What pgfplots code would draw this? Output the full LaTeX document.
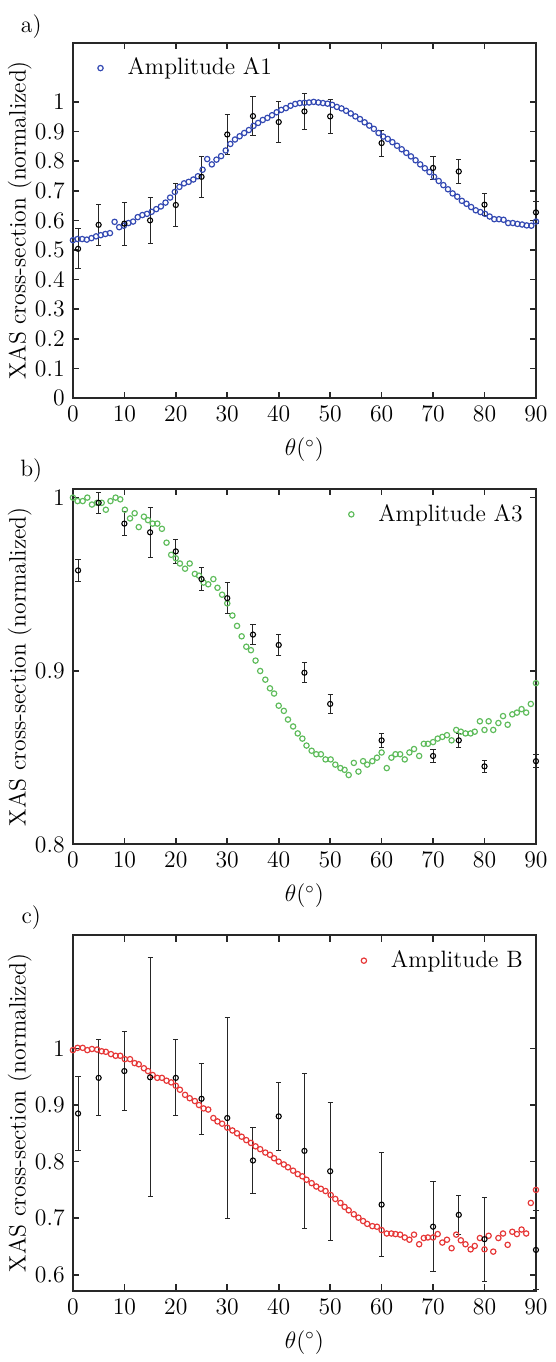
\documentclass[border=0pt]{standalone}
\usepackage{pgfplots}
\pgfplotsset{compat=1.18}

\definecolor{simblue}{RGB}{50,72,178}
\definecolor{simgreen}{RGB}{95,188,92}
\definecolor{simred}{RGB}{230,55,55}
\definecolor{axgray}{RGB}{40,40,40}

\pgfplotsset{
  xaspanel/.style={
    scale only axis,
    width=234.5pt, height=180pt,
    xmin=0, xmax=90,
    xtick={0,10,...,90},
    axis line style={axgray, line width=1pt},
    tick style={axgray, line width=0.8pt},
    tick align=inside,
    major tick length=3.2pt,
    xlabel={$\theta(^\circ)$},
    ylabel={XAS cross-section (normalized)},
    ylabel style={yshift=-6.5pt},
    /pgf/number format/fixed,
    clip=false,
    legend style={draw=none, fill=none, inner sep=1pt,
      font=\fontsize{12}{14}\selectfont},
    legend cell align=left,
  },
  simpts/.style={only marks, mark=o, mark size=1.35pt, line width=0.6pt, mark options={draw=#1},
    legend image code/.code={
      \path (0cm,0cm) (0.55cm,0cm);
      \draw[##1] plot[only marks] coordinates {(0.15cm,0cm)};}},
  datapts/.style={only marks, mark=o, mark size=1.3pt, line width=0.55pt, black,
    error bars/y dir=both, error bars/y explicit,
    error bars/error bar style={line width=0.5pt, black!85},
    error bars/error mark options={rotate=90, mark size=1.3pt, line width=0.5pt, black!85}},
}

\begin{document}
{\fontsize{12}{14}\selectfont
\begin{tikzpicture}

% ---------------- a) amplitude A1 ----------------
\begin{axis}[xaspanel, name=pa, at={(0,0)}, anchor=north west,
  ymin=0, ymax=1.2,
  ytick={0,0.1,0.2,0.3,0.4,0.5,0.6,0.7,0.8,0.9,1},
  legend style={at={(rel axis cs:0.035,0.975)}, anchor=north west},
]
\addplot[simpts=simblue] coordinates {
(0.0,0.533)(0.9,0.537)(1.8,0.537)(2.7,0.535)(3.6,0.540)(4.5,0.546)(5.4,0.550)(6.3,0.554)(7.2,0.557)(8.1,0.595)
(9.0,0.577)(9.9,0.582)(10.8,0.591)(11.7,0.596)(12.6,0.611)(13.5,0.618)(14.4,0.622)(15.3,0.629)(16.2,0.638)(17.1,0.647)
(18.0,0.660)(18.9,0.677)(19.8,0.696)(20.7,0.713)(21.6,0.725)(22.5,0.730)(23.4,0.738)(24.3,0.749)(25.2,0.771)(26.1,0.807)
(27.0,0.789)(27.9,0.805)(28.8,0.817)(29.7,0.836)(30.6,0.858)(31.5,0.873)(32.4,0.884)(33.3,0.895)(34.2,0.905)(35.1,0.919)
(36.0,0.929)(36.9,0.939)(37.8,0.946)(38.7,0.955)(39.6,0.965)(40.5,0.973)(41.4,0.979)(42.3,0.987)(43.2,0.993)(44.1,0.996)
(45.0,0.997)(45.9,0.998)(46.8,1.000)(47.7,0.998)(48.6,0.996)(49.5,0.994)(50.4,0.990)(51.3,0.983)(52.2,0.978)(53.1,0.970)
(54.0,0.961)(54.9,0.951)(55.8,0.942)(56.7,0.931)(57.6,0.920)(58.5,0.909)(59.4,0.895)(60.3,0.883)(61.2,0.875)(62.1,0.864)
(63.0,0.852)(63.9,0.840)(64.8,0.828)(65.7,0.816)(66.6,0.803)(67.5,0.789)(68.4,0.776)(69.3,0.763)(70.2,0.747)(71.1,0.733)
(72.0,0.719)(72.9,0.705)(73.8,0.691)(74.7,0.680)(75.6,0.666)(76.5,0.656)(77.4,0.645)(78.3,0.634)(79.2,0.628)(80.1,0.622)
(81.0,0.613)(81.9,0.604)(82.8,0.604)(83.7,0.602)(84.6,0.591)(85.5,0.591)(86.4,0.588)(87.3,0.586)(88.2,0.583)(89.1,0.582)
(90.0,0.596)
};
\addlegendentry{Amplitude A1}
\addplot[forget plot, datapts] table[x=x, y=y, y error=e] {
x  y     e
1  0.504 0.068
5  0.585 0.070
10 0.589 0.073
15 0.600 0.078
20 0.652 0.073
25 0.747 0.069
30 0.890 0.067
35 0.952 0.067
40 0.932 0.068
45 0.968 0.060
50 0.951 0.057
60 0.861 0.044
70 0.777 0.039
75 0.765 0.041
80 0.653 0.037
90 0.627 0.037
};
\node at (rel axis cs:-0.09,1.045) {a)};
\path (rel axis cs:-0.1,1.12);
\end{axis}

% ---------------- b) amplitude A3 ----------------
\begin{axis}[xaspanel, name=pb, at={(0,-226pt)}, anchor=north west,
  ymin=0.8, ymax=1.005,
  ytick={0.8,0.9,1},
  legend style={at={(rel axis cs:0.985,0.975)}, anchor=north east},
]
\addplot[simpts=simgreen] coordinates {
(0.0,1.000)(0.9,0.998)(1.9,0.998)(2.8,1.000)(3.7,0.996)(4.7,0.997)(5.6,0.997)(6.4,0.993)(7.3,0.998)(8.3,1.000)
(9.2,0.999)(10.1,0.993)(11.1,0.988)(12.0,0.991)(12.8,0.983)(13.8,0.989)(14.6,0.987)(15.5,0.985)(16.4,0.985)(17.3,0.982)
(18.2,0.974)(19.1,0.967)(20.0,0.965)(20.8,0.962)(21.8,0.959)(22.7,0.962)(23.7,0.956)(24.5,0.955)(25.4,0.951)(26.3,0.950)
(27.3,0.953)(28.1,0.948)(29.0,0.944)(30.0,0.939)(31.0,0.932)(31.9,0.926)(32.8,0.920)(33.7,0.914)(34.6,0.912)(35.5,0.906)
(36.4,0.900)(37.4,0.895)(38.3,0.890)(39.1,0.887)(40.0,0.880)(41.0,0.877)(41.8,0.872)(42.8,0.868)(43.7,0.864)(44.6,0.861)
(45.4,0.857)(46.4,0.854)(47.3,0.852)(48.2,0.852)(49.1,0.849)(50.1,0.849)(51.0,0.846)(52.0,0.844)(52.8,0.843)(53.6,0.840)
(54.6,0.847)(55.5,0.842)(56.4,0.848)(57.2,0.846)(58.2,0.848)(59.1,0.850)(60.0,0.853)(61.0,0.844)(61.9,0.850)(62.7,0.852)
(63.6,0.852)(64.5,0.849)(65.4,0.853)(66.3,0.855)(67.3,0.851)(68.2,0.858)(69.0,0.858)(70.0,0.859)(70.9,0.861)(71.8,0.862)
(72.7,0.863)(73.6,0.860)(74.5,0.866)(75.4,0.865)(76.3,0.864)(77.3,0.864)(78.1,0.865)(79.1,0.871)(80.0,0.866)(80.8,0.871)
(81.7,0.866)(82.7,0.870)(83.6,0.874)(84.5,0.869)(85.4,0.875)(86.3,0.876)(87.2,0.878)(88.1,0.876)(89.0,0.881)(90.0,0.893)
};
\addlegendentry{Amplitude A3}
\addplot[forget plot, datapts] table[x=x, y=y, y error=e] {
x  y     e
1  0.958 0.0065
5  0.997 0.0060
10 0.985 0.0070
15 0.980 0.0145
20 0.969 0.0070
25 0.953 0.0065
30 0.942 0.0090
35 0.921 0.0057
40 0.915 0.0060
45 0.899 0.0057
50 0.881 0.0053
60 0.860 0.0042
70 0.851 0.0040
75 0.860 0.0040
80 0.845 0.0033
90 0.848 0.0037
};
\node at (rel axis cs:-0.09,1.053) {b)};
\end{axis}

% ---------------- c) amplitude B ----------------
\begin{axis}[xaspanel, name=pc, at={(0,-452pt)}, anchor=north west,
  ymin=0.572, ymax=1.2,
  ytick={0.6,0.7,0.8,0.9,1},
  legend style={at={(rel axis cs:0.985,0.975)}, anchor=north east},
]
\addplot[simpts=simred] coordinates {
(0.0,0.997)(0.9,1.001)(1.9,1.001)(2.8,0.997)(3.7,0.999)(4.7,0.998)(5.6,0.995)(6.4,0.994)(7.4,0.990)(8.3,0.987)
(9.2,0.987)(10.1,0.981)(11.1,0.981)(12.0,0.974)(12.8,0.972)(13.8,0.965)(14.6,0.960)(15.5,0.953)(16.4,0.948)(17.3,0.948)
(18.2,0.943)(19.1,0.940)(20.0,0.934)(20.8,0.927)(21.8,0.918)(22.7,0.912)(23.7,0.907)(24.5,0.900)(25.4,0.894)(26.3,0.892)
(27.3,0.877)(28.1,0.871)(29.0,0.867)(30.0,0.860)(31.0,0.855)(31.9,0.850)(32.8,0.844)(33.7,0.838)(34.6,0.833)(35.5,0.827)
(36.4,0.822)(37.4,0.816)(38.3,0.812)(39.1,0.806)(40.0,0.800)(41.0,0.795)(41.8,0.790)(42.8,0.784)(43.7,0.778)(44.6,0.774)
(45.4,0.768)(46.4,0.762)(47.3,0.756)(48.2,0.752)(49.1,0.748)(50.1,0.741)(51.0,0.734)(52.0,0.727)(52.8,0.720)(53.6,0.714)
(54.6,0.707)(55.5,0.701)(56.4,0.695)(57.2,0.690)(58.2,0.686)(59.1,0.685)(60.0,0.679)(61.0,0.673)(61.9,0.673)(62.7,0.672)
(63.6,0.671)(64.5,0.666)(65.4,0.662)(66.3,0.671)(67.3,0.654)(68.2,0.665)(69.0,0.666)(70.0,0.666)(70.9,0.672)(71.8,0.657)
(72.7,0.662)(73.6,0.647)(74.5,0.671)(75.4,0.661)(76.3,0.654)(77.3,0.645)(78.1,0.651)(79.1,0.665)(80.0,0.645)(80.8,0.669)
(81.7,0.641)(82.7,0.665)(83.6,0.673)(84.5,0.653)(85.4,0.676)(86.3,0.672)(87.2,0.680)(88.1,0.673)(89.0,0.727)(90.0,0.750)
};
\addlegendentry{Amplitude B}
\addplot[forget plot, datapts] table[x=x, y=y, y error=e] {
x  y     e
1  0.885 0.065
5  0.948 0.067
10 0.960 0.070
15 0.949 0.211
20 0.948 0.067
25 0.911 0.063
30 0.877 0.177
35 0.802 0.059
40 0.880 0.060
45 0.819 0.137
50 0.783 0.122
60 0.724 0.092
70 0.685 0.080
75 0.706 0.035
80 0.663 0.074
90 0.644 0.070
};
\node at (rel axis cs:-0.09,1.05) {c)};
\end{axis}

\end{tikzpicture}}
\end{document}
